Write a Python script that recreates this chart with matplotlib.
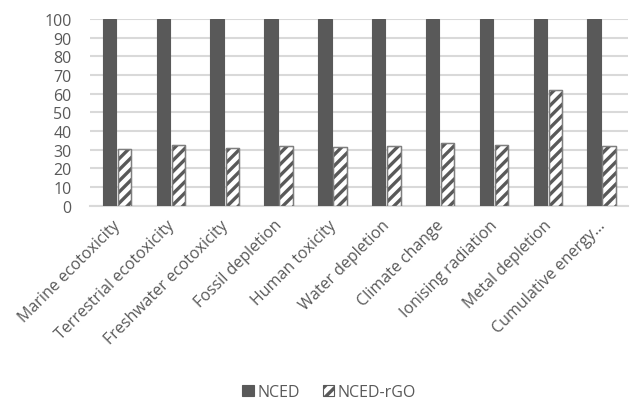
import matplotlib
matplotlib.use("Agg")
import matplotlib.pyplot as plt
import matplotlib.transforms as mtransforms
import numpy as np

categories = ["Marine ecotoxicity", "Terrestrial ecotoxicity", "Freshwater ecotoxicity",
              "Fossil depletion", "Human toxicity", "Water depletion", "Climate change",
              "Ionising radiation", "Metal depletion", "Cumulative energy…"]
nced = [100, 100, 100, 100, 100, 100, 100, 100, 100, 100]
nced_rgo = [30.4, 32.7, 30.9, 32.1, 31.3, 32.1, 33.6, 32.7, 62.1, 32.1]
yticks = [0, 10, 20, 30, 40, 50, 60, 70, 80, 90, 100]

plt.rcParams['font.family'] = ['Open Sans', 'DejaVu Sans']
plt.rcParams['hatch.linewidth'] = 2.4

txt = '#595959'
dark = '#595959'
grid = '#d9d9d9'
fs = 11.5

fig = plt.figure(figsize=(6.32, 4.02), dpi=100)
ax = fig.add_axes([0.142, 0.486, 0.852, 0.464])

x = np.arange(len(categories))
w = 0.25
ax.bar(x - 0.133, nced, w, color=dark, edgecolor=dark, linewidth=0.8, label='NCED', zorder=3)
ax.bar(x + 0.147, nced_rgo, w, facecolor='white', edgecolor=dark, hatch='///', linewidth=0.8,
       label='NCED-rGO', zorder=3)
ax.bar(x + 0.147, nced_rgo, w, facecolor='none', edgecolor='#7f7f7f', linewidth=1.0, zorder=4)

ax.set_xlim(-0.5, len(categories) - 0.5)
ax.set_ylim(0, 100)
ax.set_yticks(yticks)
ax.yaxis.grid(True, color=grid, linewidth=1.5, zorder=0)
ax.set_axisbelow(True)
for s in ['top', 'right', 'left']:
    ax.spines[s].set_visible(False)
ax.spines['bottom'].set_color(grid)
ax.spines['bottom'].set_linewidth(1.5)
ax.tick_params(axis='both', length=0, colors=txt, labelsize=fs)
ax.tick_params(axis='y', pad=13)
ax.set_xticks(x)
ax.set_xticklabels(categories, rotation=45, ha='right', va='top', rotation_mode='anchor', fontsize=fs)
ax.tick_params(axis='x', pad=8)
offset = mtransforms.ScaledTranslation(-4 / 100, 0, fig.dpi_scale_trans)
for lbl in ax.get_xticklabels():
    lbl.set_transform(lbl.get_transform() + offset)

handles, labels = ax.get_legend_handles_labels()
fig.legend(handles[:2], labels[:2], loc='center', bbox_to_anchor=(0.521, 0.022), ncol=2, frameon=False,
           fontsize=fs, handlelength=0.75, handleheight=0.75, handletextpad=0.2, columnspacing=1.4,
           labelcolor=txt)

fig.savefig('out.png', dpi=100)
